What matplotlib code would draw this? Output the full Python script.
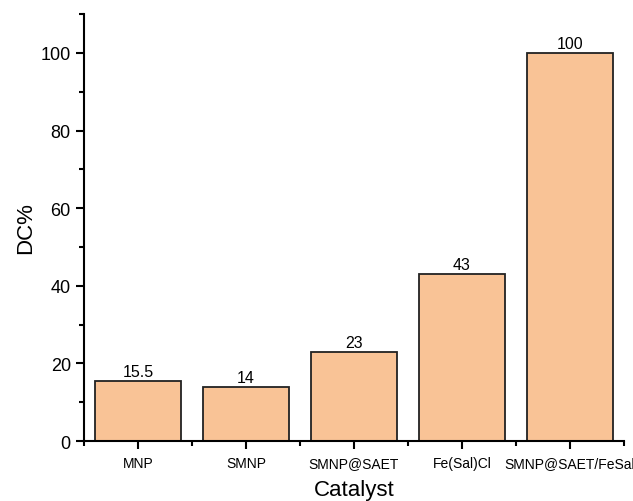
import numpy as np
import matplotlib
matplotlib.use("Agg")
from matplotlib import pyplot as plt
from matplotlib.ticker import MultipleLocator

# Dados do gráfico
catalisadores = ["MNP", "SMNP", "SMNP@SAET", "Fe(Sal)Cl", "SMNP@SAET/FeSal"]
dc = [15.5, 14, 23, 43, 100]
rotulos = ["15.5", "14", "23", "43", "100"]

plt.rcParams['font.family'] = ['Liberation Sans', 'DejaVu Sans']

fig = plt.figure(figsize=(6.33, 5.02), dpi=100)
ax = fig.add_axes([0.1327, 0.1195, 0.853, 0.8505])

x = np.arange(1, len(catalisadores) + 1)
ax.bar(x, dc, width=0.8, color="#F9C396", edgecolor="#222222", linewidth=1.3)

for xi, v, r in zip(x, dc, rotulos):
    ax.text(xi, v + 0.5, r, ha="center", va="bottom", fontsize=11.5)

ax.set_xlim(0.5, 5.5)
ax.set_ylim(0, 110)
ax.set_xticks(x)
ax.set_xticklabels(catalisadores, fontsize=10)
ax.xaxis.set_minor_locator(MultipleLocator(1, offset=0.5))
ax.yaxis.set_major_locator(MultipleLocator(20))
ax.yaxis.set_minor_locator(MultipleLocator(10))
ax.tick_params(axis="y", labelsize=13)

for lado in ["top", "right"]:
    ax.spines[lado].set_visible(False)
for lado in ["left", "bottom"]:
    ax.spines[lado].set_linewidth(1.5)

ax.tick_params(which="major", direction="out", length=6, width=1.5)
ax.tick_params(which="minor", direction="out", length=3.5, width=1.5)
ax.tick_params(axis="x", pad=5)

ax.set_xlabel("Catalyst", fontsize=16, labelpad=6)
ax.set_ylabel("DC%", fontsize=16, labelpad=3)

fig.savefig("out.png", dpi=100)
